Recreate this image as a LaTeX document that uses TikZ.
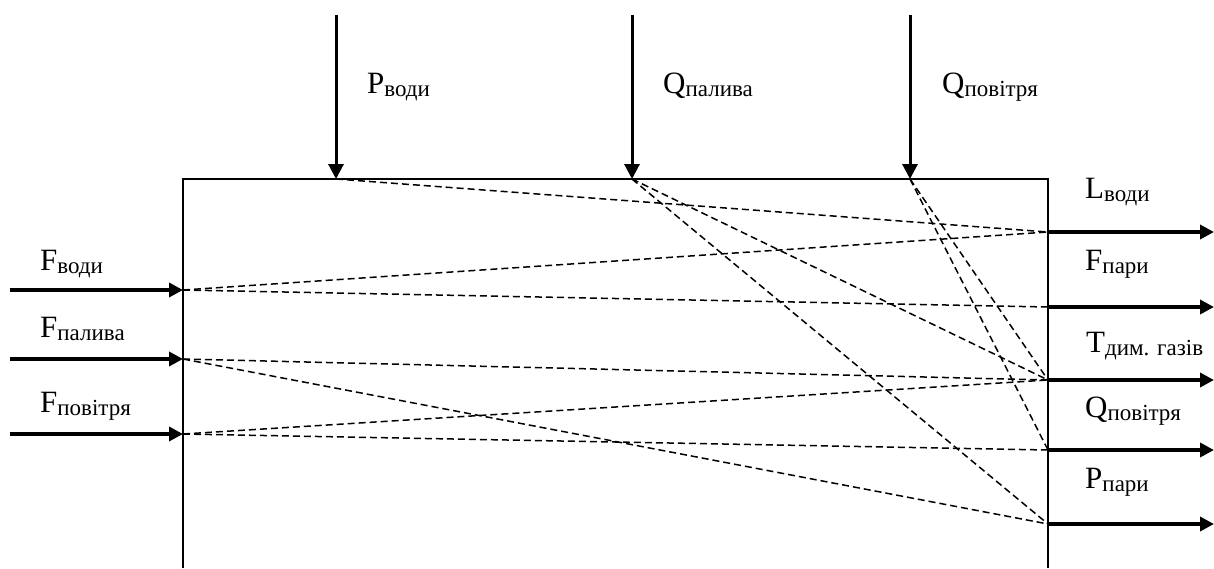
\documentclass[tikz,border=0pt]{standalone}
\usepackage{fontspec}
\setmainfont{Liberation Serif}
\usetikzlibrary{arrows.meta}
\newcommand{\mylbl}[2]{\fontsize{31}{31}\selectfont #1\raisebox{-3.5pt}{\fontsize{23}{23}\selectfont #2}}
\tikzset{
  boxline/.style={line width=2pt},
  toparrow/.style={line width=3pt, -{Triangle[length=15pt,width=15pt]}},
  sidearrow/.style={line width=4pt, -{Triangle[length=14pt,width=14pt]}},
  flow/.style={line width=1.5pt, dash pattern=on 7pt off 4pt},
  lab/.style={inner sep=0pt, anchor=base west}
}
\begin{document}
\begin{tikzpicture}[x=1pt,y=-1pt]
\useasboundingbox (0,0) rectangle (1214,568);
% box
\coordinate (bl) at (183,568);
\coordinate (tl) at (183,179);
\coordinate (tr) at (1048,179);
\coordinate (br) at (1048,568);
\draw[boxline] (bl) -- (tl) -- (tr) -- (br);
% top inputs
\coordinate (pw0) at (336,15);  \coordinate (pw) at (336,179);
\coordinate (qp0) at (632,15);  \coordinate (qp) at (632,179);
\coordinate (qa0) at (910,15);  \coordinate (qa) at (910,179);
\draw[toparrow] (pw0) -- (pw);
\draw[toparrow] (qp0) -- (qp);
\draw[toparrow] (qa0) -- (qa);
% left inputs
\coordinate (fw0) at (10,290);  \coordinate (fw) at (183,290);
\coordinate (fp0) at (10,359);  \coordinate (fp) at (183,359);
\coordinate (fa0) at (10,434);  \coordinate (fa) at (183,434);
\draw[sidearrow] (fw0) -- (fw);
\draw[sidearrow] (fp0) -- (fp);
\draw[sidearrow] (fa0) -- (fa);
% right outputs
\coordinate (lw) at (1048,232);  \coordinate (lw1) at (1214,232);
\coordinate (fpa) at (1048,307); \coordinate (fpa1) at (1214,307);
\coordinate (td) at (1048,380);  \coordinate (td1) at (1214,380);
\coordinate (qo) at (1048,450);  \coordinate (qo1) at (1214,450);
\coordinate (pp) at (1048,524);  \coordinate (pp1) at (1214,524);
\draw[sidearrow] (lw) -- (lw1);
\draw[sidearrow] (fpa) -- (fpa1);
\draw[sidearrow] (td) -- (td1);
\draw[sidearrow] (qo) -- (qo1);
\draw[sidearrow] (pp) -- (pp1);
% dashed relations
\draw[flow] (pw) -- (lw);
\draw[flow] (qp) -- (td);
\draw[flow] (qp) -- (pp);
\draw[flow] (qa) -- (td);
\draw[flow] (qa) -- (qo);
\draw[flow] (fw) -- (lw);
\draw[flow] (fw) -- (fpa);
\draw[flow] (fp) -- (td);
\draw[flow] (fp) -- (pp);
\draw[flow] (fa) -- (td);
\draw[flow] (fa) -- (qo);
% labels
\node[lab] (lpw) at (367,93) {\mylbl{P}{води}};
\node[lab] (lqp) at (663,93) {\mylbl{Q}{палива}};
\node[lab] (lqa) at (942,93) {\mylbl{Q}{повітря}};
\node[lab] (lfw) at (40,270) {\mylbl{F}{води}};
\node[lab] (lfp) at (40,337) {\mylbl{F}{палива}};
\node[lab] (lfa) at (40,412) {\mylbl{F}{повітря}};
\node[lab] (llw) at (1085,198) {\mylbl{L}{води}};
\node[lab] (lfpa) at (1085,270) {\mylbl{F}{пари}};
\node[lab] (ltd) at (1086,352) {\mylbl{T}{дим. газів}};
\node[lab] (lqo) at (1085,417) {\mylbl{Q}{повітря}};
\node[lab] (lpp) at (1085,488) {\mylbl{P}{пари}};
\end{tikzpicture}
\end{document}
